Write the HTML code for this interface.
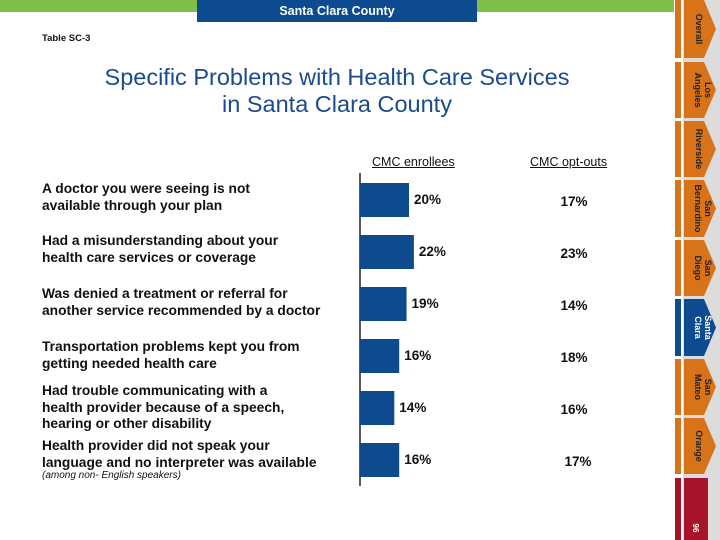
<!DOCTYPE html>
<html><head><meta charset="utf-8"><style>
body{margin:0;width:720px;height:540px;background:#fff;position:relative;overflow:hidden;font-family:"Liberation Sans",sans-serif}
.abs{position:absolute}
.lbl{position:absolute;left:42px;font-size:13.8px;font-weight:bold;line-height:16.5px;color:#111;white-space:nowrap}
</style></head><body>
<div class="abs" style="left:0;top:0;width:674px;height:12px;background:#7fbf48"></div>
<div class="abs" style="left:197px;top:0;width:280px;height:22px;background:#0d4a8f;color:#fff;font-size:12.5px;font-weight:bold;text-align:center;line-height:22px">Santa Clara County</div>
<div class="abs" style="left:42px;top:33px;font-size:9.5px;font-weight:bold;color:#111">Table SC-3</div>
<div class="abs" style="left:22px;width:630px;top:64px;text-align:center;font-size:23.5px;line-height:27px;color:#1a4b8c">Specific Problems with Health Care Services<br>in Santa Clara County</div>
<div class="abs" style="left:372px;top:155px;font-size:12.5px;text-decoration:underline;color:#111">CMC enrollees</div>
<div class="abs" style="left:530px;top:155px;font-size:12.5px;text-decoration:underline;color:#111">CMC opt-outs</div>

<div class="lbl" style="top:181px">A doctor you were seeing is not<br>available through your plan</div>
<div class="lbl" style="top:233px">Had a misunderstanding about your<br>health care services or coverage</div>
<div class="lbl" style="top:286px">Was denied a treatment or referral for<br>another service recommended by a doctor</div>
<div class="lbl" style="top:339px">Transportation problems kept you from<br>getting needed health care</div>
<div class="lbl" style="top:383px">Had trouble communicating with a<br>health provider because of a speech,<br>hearing or other disability</div>
<div class="lbl" style="top:438px">Health provider did not speak your<br>language and no interpreter was available</div>
<div class="abs" style="left:42px;top:470px;font-size:10px;font-style:italic;color:#111">(among non- English speakers)</div>

<svg id="chart" class="abs" style="left:0;top:0" width="720" height="540"></svg>

<script>
const categories=["A doctor you were seeing is not available","Had a misunderstanding","Was denied a treatment","Transportation problems","Had trouble communicating","Provider did not speak language"];
const enrollees=[20,22,19,16,14,16];
const optouts=[17,23,14,18,16,17];
const svg=document.getElementById('chart');
const NS='http://www.w3.org/2000/svg';
const x0=360, pxPer=2.45;
function xs(v){return x0+v*pxPer;}
function yRow(i){return 183+i*52;}
const barH=34;
const axis=document.createElementNS(NS,'line');
axis.setAttribute('x1',x0);axis.setAttribute('x2',x0);axis.setAttribute('y1',173);axis.setAttribute('y2',486);
axis.setAttribute('stroke','#223');axis.setAttribute('stroke-width','1.5');


svg.appendChild(axis);
categories.forEach((c,i)=>{
  const y=yRow(i);
  const r=document.createElementNS(NS,'rect');
  r.setAttribute('x',x0);r.setAttribute('y',y);r.setAttribute('width',xs(enrollees[i])-x0);r.setAttribute('height',barH);
  r.setAttribute('fill','#0e4a8e');
  
  
  svg.appendChild(r);
  const t=document.createElementNS(NS,'text');
  t.setAttribute('x',xs(enrollees[i])+5);t.setAttribute('y',y+21);
  t.setAttribute('font-size','13.5');t.setAttribute('font-weight','bold');t.setAttribute('fill','#111');
  t.textContent=enrollees[i]+'%';
  
  
  svg.appendChild(t);
  const t2=document.createElementNS(NS,'text');
  t2.setAttribute('x',i==5?578:574);t2.setAttribute('y',y+23);t2.setAttribute('text-anchor','middle');
  t2.setAttribute('font-size','13.5');t2.setAttribute('font-weight','bold');t2.setAttribute('fill','#111');
  t2.textContent=optouts[i]+'%';
  
  
  svg.appendChild(t2);
});
const tabNames=[["Overall"],["Los","Angeles"],["Riverside"],["San","Bernardino"],["San","Diego"],["Santa","Clara"],["San","Mateo"],["Orange"]];
const tabTops=[0,62,121,180,240,299,359,418];
const tabH=[58,56,56,57,56,57,56,56];
const g=document.createElementNS(NS,'g');


svg.appendChild(g);
const bg=document.createElementNS(NS,'rect');
bg.setAttribute('x',683);bg.setAttribute('y',0);bg.setAttribute('width',37);bg.setAttribute('height',540);bg.setAttribute('fill','#dcdcdc');
g.appendChild(bg);
tabNames.forEach((n,i)=>{
  const top=tabTops[i],h=tabH[i],col=i==5?'#0d4a8f':'#d9731a';
  const s=document.createElementNS(NS,'rect');
  s.setAttribute('x',675);s.setAttribute('y',top);s.setAttribute('width',6);s.setAttribute('height',h);s.setAttribute('fill',col);
  g.appendChild(s);
  const p=document.createElementNS(NS,'polygon');
  p.setAttribute('points',`684,${top} 704,${top} 716,${top+h/2} 704,${top+h} 684,${top+h}`);
  p.setAttribute('fill',col);
  
  
  g.appendChild(p);
  const t=document.createElementNS(NS,'text');
  t.setAttribute('transform',`translate(${n.length==1?699:703},${top+h/2}) rotate(90)`);
  t.setAttribute('text-anchor','middle');t.setAttribute('font-size','9');t.setAttribute('font-weight','bold');
  t.setAttribute('fill',i==5?'#fff':'#222');
  n.forEach((line,k)=>{const ts=document.createElementNS(NS,'tspan');ts.setAttribute('x',0);ts.setAttribute('dy',k==0?(n.length==1?3:-2):10);ts.textContent=line;t.appendChild(ts);});
  
  
  g.appendChild(t);
});
const rs=document.createElementNS(NS,'rect');
rs.setAttribute('x',675);rs.setAttribute('y',478);rs.setAttribute('width',6);rs.setAttribute('height',62);rs.setAttribute('fill','#a8122a');
g.appendChild(rs);
const rb=document.createElementNS(NS,'rect');
rb.setAttribute('x',684);rb.setAttribute('y',478);rb.setAttribute('width',24);rb.setAttribute('height',62);rb.setAttribute('fill','#a8122a');


g.appendChild(rb);
const pn=document.createElementNS(NS,'text');
pn.setAttribute('transform','translate(696,528) rotate(90)');pn.setAttribute('text-anchor','middle');
pn.setAttribute('font-size','8');pn.setAttribute('font-weight','bold');pn.setAttribute('fill','#fff');pn.setAttribute('dy','3');
pn.textContent='96';


g.appendChild(pn);
</script>
</body></html>
